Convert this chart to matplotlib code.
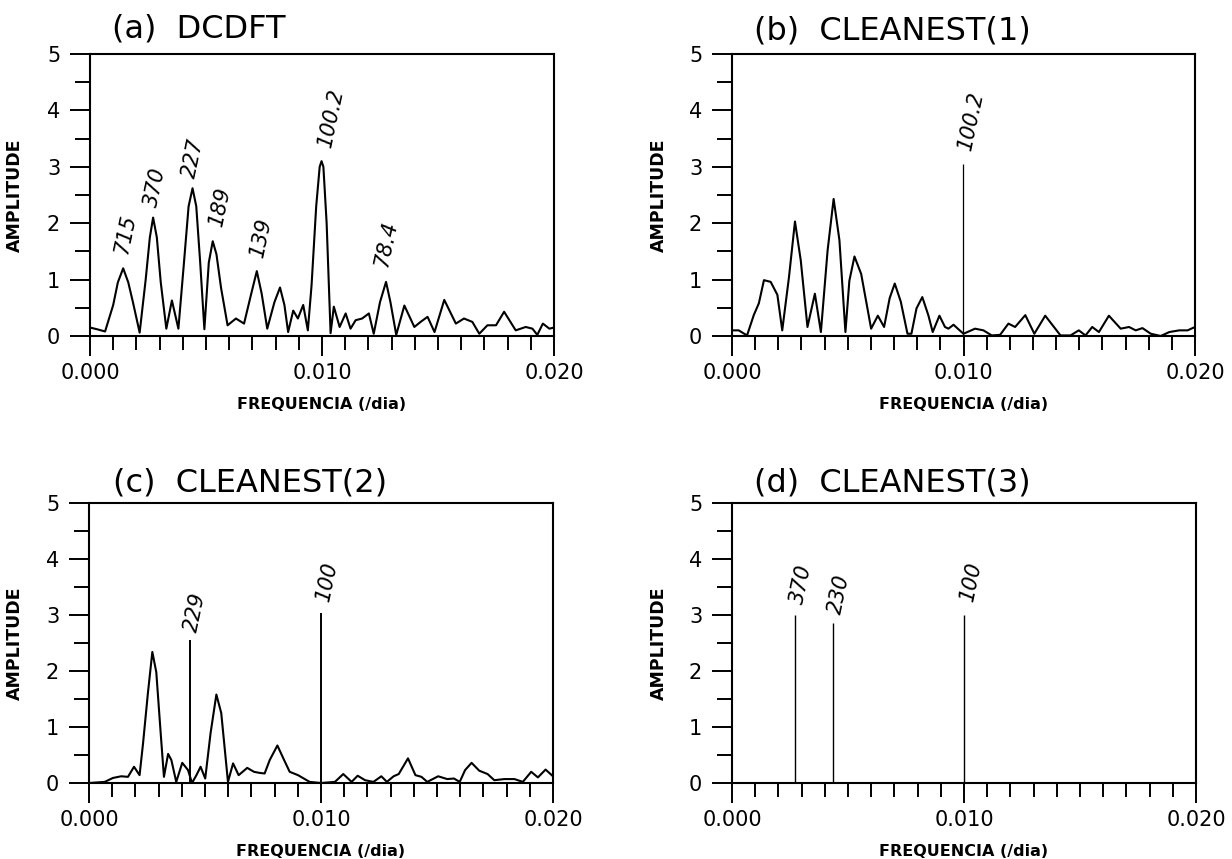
import matplotlib
matplotlib.use("Agg")
import matplotlib.pyplot as plt
import numpy as np

# ---------------- data (frequency in units of 0.001 /dia) ----------------
freq_a = [0.0, 0.3, 0.65, 1.0, 1.2, 1.43, 1.65, 1.85, 2.14, 2.4, 2.58, 2.72, 2.88, 3.05,
          3.29, 3.53, 3.81, 4.05, 4.25, 4.42, 4.58, 4.75, 4.93, 5.12, 5.29, 5.45, 5.65,
          5.93, 6.29, 6.64, 6.95, 7.19, 7.4, 7.64, 7.95, 8.19, 8.38, 8.54, 8.76, 8.96,
          9.19, 9.39, 9.55, 9.75, 9.9, 9.98, 10.06, 10.2, 10.37, 10.51, 10.76, 11.02,
          11.23, 11.45, 11.73, 12.02, 12.23, 12.5, 12.76, 12.95, 13.2, 13.55, 13.98,
          14.25, 14.55, 14.85, 15.27, 15.77, 16.12, 16.48, 16.78, 17.13, 17.5, 17.85,
          18.35, 18.78, 19.07, 19.28, 19.52, 19.8, 20.0]
amp_a = [0.15, 0.12, 0.08, 0.55, 0.95, 1.2, 0.95, 0.6, 0.06, 1.0, 1.75, 2.1, 1.75, 0.95,
         0.13, 0.63, 0.13, 1.3, 2.3, 2.62, 2.3, 1.3, 0.12, 1.3, 1.68, 1.45, 0.85,
         0.19, 0.31, 0.22, 0.75, 1.15, 0.75, 0.13, 0.6, 0.86, 0.55, 0.07, 0.45, 0.31,
         0.55, 0.10, 0.9, 2.3, 3.0, 3.1, 3.0, 2.0, 0.05, 0.52, 0.16, 0.40,
         0.13, 0.28, 0.31, 0.40, 0.04, 0.6, 0.96, 0.6, 0.02, 0.54, 0.16,
         0.25, 0.34, 0.07, 0.64, 0.22, 0.31, 0.25, 0.04, 0.19, 0.19, 0.43,
         0.10, 0.16, 0.13, 0.02, 0.22, 0.13, 0.15]

freq_b = [0.0, 0.29, 0.65, 0.94, 1.16, 1.38, 1.67, 1.96, 2.17, 2.46, 2.72, 2.97, 3.26,
          3.58, 3.84, 4.13, 4.39, 4.64, 4.90, 5.07, 5.29, 5.58, 6.01, 6.30, 6.57, 6.81,
          7.03, 7.29, 7.58, 7.75, 7.97, 8.22, 8.48, 8.67, 8.96, 9.20, 9.35, 9.57, 9.78,
          10.0, 10.5, 10.86, 11.22, 11.58, 11.94, 12.23, 12.67, 13.06, 13.53, 14.19,
          14.62, 14.98, 15.27, 15.56, 15.85, 16.28, 16.79, 17.15, 17.44, 17.73, 18.09,
          18.52, 18.89, 19.32, 19.68, 20.0]
amp_b = [0.10, 0.10, 0.01, 0.37, 0.58, 0.99, 0.96, 0.73, 0.10, 1.04, 2.03, 1.34, 0.16,
         0.75, 0.07, 1.52, 2.43, 1.70, 0.07, 0.98, 1.41, 1.10, 0.13, 0.36, 0.16, 0.67,
         0.93, 0.61, 0.04, 0.04, 0.49, 0.69, 0.37, 0.07, 0.36, 0.16, 0.13, 0.20, 0.12,
         0.04, 0.13, 0.10, 0.01, 0.02, 0.22, 0.16, 0.37, 0.04, 0.36, 0.01,
         0.01, 0.10, 0.01, 0.16, 0.07, 0.36, 0.13, 0.16, 0.10, 0.14, 0.04,
         0.0, 0.07, 0.10, 0.10, 0.16]

freq_c = [0.0, 0.68, 1.03, 1.39, 1.68, 1.94, 2.18, 2.33, 2.54, 2.73, 2.90, 3.09, 3.23,
          3.41, 3.55, 3.76, 4.02, 4.27, 4.44, 4.63, 4.81, 5.01, 5.24, 5.49, 5.70, 5.99,
          6.21, 6.45, 6.82, 7.11, 7.36, 7.57, 7.79, 8.12, 8.41, 8.65, 9.01, 9.51, 10.0,
          10.6, 10.96, 11.32, 11.58, 11.9, 12.26, 12.60, 12.84, 13.13, 13.35, 13.75,
          14.07, 14.33, 14.58, 15.05, 15.44, 15.73, 15.98, 16.21, 16.49, 16.82, 17.18,
          17.47, 17.90, 18.34, 18.70, 19.06, 19.35, 19.68, 20.0]
amp_c = [0.0, 0.02, 0.09, 0.12, 0.11, 0.29, 0.14, 0.71, 1.61, 2.34, 1.98, 0.89, 0.11,
         0.52, 0.41, 0.02, 0.36, 0.23, 0.0, 0.14, 0.29, 0.08, 0.89, 1.58, 1.25, 0.02,
         0.35, 0.14, 0.27, 0.20, 0.18, 0.17, 0.41, 0.67, 0.41, 0.20, 0.14, 0.02, 0.0,
         0.02, 0.16, 0.02, 0.13, 0.05, 0.02, 0.12, 0.02, 0.12, 0.16, 0.44,
         0.14, 0.11, 0.02, 0.12, 0.07, 0.08, 0.02, 0.23, 0.36, 0.22, 0.16,
         0.05, 0.07, 0.07, 0.02, 0.20, 0.10, 0.24, 0.12]

spike_freq_b = [9.98]
spike_amp_b = [3.05]
spike_freq_c = [4.37, 10.0]
spike_amp_c = [2.55, 3.03]
spike_freq_d = [2.70, 4.35, 10.0]
spike_amp_d = [3.0, 2.85, 3.0]

# peak labels: text, freq, amplitude of the label start
labels_a = ["715", "370", "227", "189", "139", "100.2", "78.4"]
label_freq_a = [1.35, 2.64, 4.29, 5.43, 7.21, 10.12, 12.57]
label_amp_a = [1.45, 2.30, 2.81, 1.95, 1.41, 3.35, 1.22]
labels_b = ["100.2"]
label_freq_b = [10.05]
label_amp_b = [3.3]
labels_c = ["229", "100"]
label_freq_c = [4.42, 10.1]
label_amp_c = [2.7, 3.25]
labels_d = ["370", "230", "100"]
label_freq_d = [2.82, 4.45, 10.12]
label_amp_d = [3.2, 3.02, 3.25]

titles = ["(a)  DCDFT", "(b)  CLEANEST(1)", "(c)  CLEANEST(2)", "(d)  CLEANEST(3)"]
xlabel = "FREQUENCIA (/dia)"
ylabel = "AMPLITUDE"
xticks_major = [0.0, 0.010, 0.020]

# ---------------- figure ----------------
W, H = 1232, 859
fig = plt.figure(figsize=(W / 100, H / 100), dpi=100)
plt.rcParams['font.family'] = ['DejaVu Sans']


def frac(l, r, t, b):
    return [l / W, 1 - b / H, (r - l) / W, (b - t) / H]


boxes = [frac(90, 554, 54, 336), frac(732, 1195, 54, 336),
         frac(89, 553, 503, 783), frac(732, 1196, 503, 783)]
title_pos = [(112, 38), (754, 40), (113, 492), (754, 492)]
ylabel_x = [24, 668, 24, 668]

curves = [(freq_a, amp_a), (freq_b, amp_b), (freq_c, amp_c), None]
spikes = [None, (spike_freq_b, spike_amp_b, 0.9), (spike_freq_c, spike_amp_c, 1.4),
          (spike_freq_d, spike_amp_d, 1.0)]
labs = [(labels_a, label_freq_a, label_amp_a), (labels_b, label_freq_b, label_amp_b),
        (labels_c, label_freq_c, label_amp_c), (labels_d, label_freq_d, label_amp_d)]

for i in range(4):
    ax = fig.add_axes(boxes[i])
    if curves[i] is not None:
        f, a = curves[i]
        ax.plot(np.array(f) * 1e-3, a, color='black', lw=1.5, solid_joinstyle='round')
    if spikes[i] is not None:
        sf, sa, lw = spikes[i]
        ax.vlines(np.array(sf) * 1e-3, 0, sa, color='black', lw=lw)
    for t, lf, la in zip(*labs[i]):
        ax.text(lf * 1e-3, la, t, rotation=78, rotation_mode='anchor', ha='left',
                va='center', fontsize=15, fontstyle='italic', color='black')
    ax.set_xlim(0, 0.020)
    ax.set_ylim(0, 5)
    ax.set_xticks(xticks_major)
    ax.set_xticklabels(["%.3f" % v for v in xticks_major])
    ax.set_xticks(np.arange(0, 21) * 1e-3, minor=True)
    ax.set_yticks(range(6))
    ax.set_yticks(np.arange(0.5, 5, 1.0), minor=True)
    ax.tick_params(axis='x', which='major', direction='out', length=14.5, width=1.4,
                   labelsize=15, pad=5)
    ax.tick_params(axis='x', which='minor', direction='out', length=10, width=1.4)
    ax.tick_params(axis='y', which='major', direction='out', length=14.5, width=1.4,
                   labelsize=15, pad=7)
    ax.tick_params(axis='y', which='minor', direction='out', length=10.5, width=1.4)
    for s in ax.spines.values():
        s.set_linewidth(1.5)
    ax.set_xlabel(xlabel, fontsize=11.5, fontweight='bold', labelpad=10)
    ax.yaxis.set_label_coords((ylabel_x[i] - boxes[i][0] * W) / (boxes[i][2] * W), 0.5,
                              transform=None)
    ax.set_ylabel(ylabel, fontsize=12.5, fontweight='bold')
    tx, ty = title_pos[i]
    fig.text(tx / W, 1 - ty / H, titles[i], fontsize=23, ha='left', va='baseline')

# y labels placed in figure pixel coords
for i, ax in enumerate(fig.axes):
    ax.yaxis.set_label_coords(ylabel_x[i] / W, (1 - (boxes[i][1] + boxes[i][3] / 2)) and
                              boxes[i][1] + boxes[i][3] / 2, transform=fig.transFigure)

fig.savefig("out.png", dpi=100)
